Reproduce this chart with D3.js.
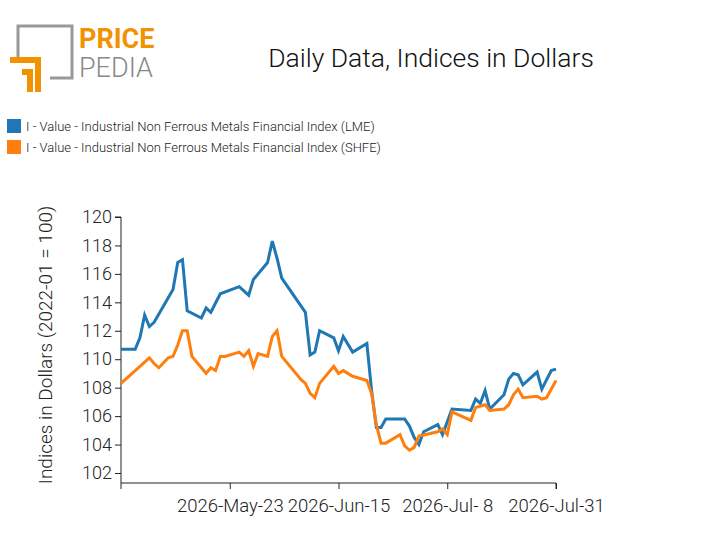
<!DOCTYPE html>
<html><head><meta charset="utf-8">
<script src="https://cdn.jsdelivr.net/npm/d3@7"></script>
<style>body{margin:0;background:#fff}text{font-family:Roboto,sans-serif}</style>
</head><body><svg id="c" width="712" height="555"></svg>
<script>
const lmeDates=["2026-04-30","2026-05-03","2026-05-04","2026-05-05","2026-05-06","2026-05-07","2026-05-11","2026-05-12","2026-05-13","2026-05-14","2026-05-17","2026-05-18","2026-05-19","2026-05-21","2026-05-25","2026-05-27","2026-05-28","2026-05-31","2026-06-01","2026-06-02","2026-06-03","2026-06-08","2026-06-09","2026-06-10","2026-06-11","2026-06-14","2026-06-15","2026-06-16","2026-06-18","2026-06-21","2026-06-22","2026-06-23","2026-06-24","2026-06-25","2026-06-29","2026-06-30","2026-07-01","2026-07-02","2026-07-03","2026-07-06","2026-07-07","2026-07-09","2026-07-13","2026-07-14","2026-07-15","2026-07-16","2026-07-17","2026-07-20","2026-07-21","2026-07-22","2026-07-23","2026-07-24","2026-07-27","2026-07-28","2026-07-30","2026-07-31"];
const lmeValues=[110.7,110.7,111.5,113.1,112.3,112.6,114.9,116.8,117.0,113.4,112.9,113.6,113.3,114.6,115.1,114.5,115.6,116.8,118.3,117.1,115.7,113.3,110.3,110.5,112.0,111.5,110.6,111.6,110.5,111.1,107.8,105.2,105.2,105.8,105.8,105.3,104.5,104.0,104.9,105.4,104.7,106.5,106.4,107.2,106.9,107.8,106.5,107.5,108.6,109.0,108.9,108.2,109.1,107.9,109.2,109.3];
const shfeDates=["2026-04-30","2026-05-06","2026-05-07","2026-05-08","2026-05-10","2026-05-11","2026-05-12","2026-05-13","2026-05-14","2026-05-15","2026-05-17","2026-05-18","2026-05-19","2026-05-20","2026-05-21","2026-05-22","2026-05-25","2026-05-26","2026-05-27","2026-05-28","2026-05-29","2026-05-31","2026-06-01","2026-06-02","2026-06-03","2026-06-07","2026-06-08","2026-06-09","2026-06-10","2026-06-11","2026-06-14","2026-06-15","2026-06-16","2026-06-18","2026-06-21","2026-06-22","2026-06-23","2026-06-24","2026-06-25","2026-06-28","2026-06-29","2026-06-30","2026-07-01","2026-07-02","2026-07-06","2026-07-07","2026-07-08","2026-07-09","2026-07-13","2026-07-14","2026-07-16","2026-07-17","2026-07-20","2026-07-21","2026-07-22","2026-07-23","2026-07-24","2026-07-27","2026-07-28","2026-07-29","2026-07-31"];
const shfeValues=[108.3,110.1,109.7,109.4,110.1,110.2,111.0,112.0,112.0,110.2,109.4,109.0,109.4,109.2,110.2,110.2,110.5,110.2,110.6,109.5,110.4,110.2,111.6,112.0,110.2,108.6,108.3,107.6,107.3,108.3,109.5,109.0,109.2,108.8,108.5,107.6,105.4,104.1,104.1,104.7,103.9,103.6,103.8,104.6,104.9,105.1,104.7,106.3,105.7,106.6,106.8,106.4,106.5,106.8,107.5,107.9,107.3,107.4,107.2,107.3,108.5];
const yTicks=[102,104,106,108,110,112,114,116,118,120];
const xTickLabels=["2026-May-23","2026-Jun-15","2026-Jul- 8","2026-Jul-31"];
const xTickDates=["2026-05-23","2026-06-15","2026-07-08","2026-07-31"];
const seriesNames=["I - Value - Industrial Non Ferrous Metals Financial Index (LME)","I - Value - Industrial Non Ferrous Metals Financial Index (SHFE)"];
const colors=["#1f77b4","#ff7f0e"];

const p=d3.utcParse("%Y-%m-%d");
const svg=d3.select("#c");
const x=d3.scaleUtc().domain([p("2026-04-30"),p("2026-07-31")]).range([121,556]);
const y=d3.scaleLinear().domain([102,120]).range([473,217]);

// logo
const lg=svg.append("g");
lg.append("path").attr("d","M18,60 V26 H72 V78 H50").attr("fill","none").attr("stroke","#999").attr("stroke-width",3);
lg.append("path").attr("d","M10,60 H38 V92").attr("fill","none").attr("stroke","#f39200").attr("stroke-width",6);
lg.append("path").attr("d","M22,72 H30 V92").attr("fill","none").attr("stroke","#f39200").attr("stroke-width",6);
lg.append("text").attr("x",79).attr("y",48).attr("font-size",27).attr("font-weight",700).attr("fill","#f39200").text("PRICE");
lg.append("text").attr("x",79).attr("y",77).attr("font-size",27).attr("font-weight",300).attr("fill","#888").text("PEDIA");

svg.append("text").attr("x",431).attr("y",67).attr("text-anchor","middle").attr("font-size",26.5).attr("font-weight",300).attr("fill","#111").text("Daily Data, Indices in Dollars");

seriesNames.forEach((n,i)=>{
  svg.append("rect").attr("x",7).attr("y",119+i*21).attr("width",14).attr("height",14).attr("fill",colors[i]);
  svg.append("text").attr("x",26).attr("y",131+i*21).attr("font-size",13).attr("font-weight",300).attr("fill","#222").text(n);
});

const ya=svg.append("g").attr("transform","translate(121,0)").call(d3.axisLeft(y).tickValues(yTicks).tickFormat(d3.format("d")).tickSize(6));
ya.selectAll("text").attr("font-size",18).attr("font-weight",300).attr("fill","#222");
const xa=svg.append("g").attr("transform","translate(0,483)").call(d3.axisBottom(x).tickValues(xTickDates.map(p)).tickFormat((d,i)=>xTickLabels[i]).tickSize(6));
xa.selectAll("text").attr("font-size",18.5).attr("font-weight",300).attr("fill","#222").attr("dy","1.1em");
xa.select(".domain").attr("d","M121,6V0H556V6");
[ya,xa].forEach(a=>a.selectAll("line,path").attr("stroke","#222"));
ya.select(".domain").attr("d","M-6,"+y(120)+"H0V483");
svg.append("text").attr("transform","translate(52,345) rotate(-90)").attr("text-anchor","middle").attr("font-size",19).attr("font-weight",300).attr("fill","#222").text("Indices in Dollars (2022-01 = 100)");

const line=d3.line().x(d=>x(d[0])).y(d=>y(d[1]));
[[lmeDates,lmeValues],[shfeDates,shfeValues]].forEach(([ds,vs],i)=>{
  svg.append("path").datum(ds.map((d,j)=>[p(d),vs[j]])).attr("d",line).attr("fill","none").attr("stroke",colors[i]).attr("stroke-width",3);
});
</script></body></html>
